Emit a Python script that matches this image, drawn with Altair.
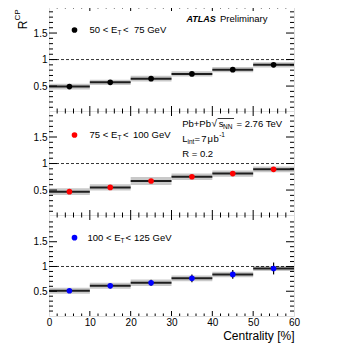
import altair as alt
import pandas as pd

# ---- data ----
CENT_LO = [0, 10, 20, 30, 40, 50]
CENT_HI = [10, 20, 30, 40, 50, 60]

R_50_75 = [0.49, 0.57, 0.64, 0.73, 0.81, 0.90]
STAT_50_75 = [0.01, 0.01, 0.012, 0.012, 0.015, 0.02]
SYS_50_75 = [0.055, 0.05, 0.055, 0.05, 0.05, 0.05]

R_75_100 = [0.47, 0.55, 0.67, 0.75, 0.81, 0.89]
STAT_75_100 = [0.015, 0.018, 0.02, 0.025, 0.03, 0.035]
SYS_75_100 = [0.065, 0.06, 0.075, 0.06, 0.06, 0.055]

R_100_125 = [0.51, 0.61, 0.67, 0.76, 0.84, 0.96]
STAT_100_125 = [0.03, 0.05, 0.06, 0.08, 0.09, 0.12]
SYS_100_125 = [0.06, 0.06, 0.065, 0.06, 0.055, 0.05]

X_LABELS = [0, 10, 20, 30, 40, 50, 60]
X_MAJOR = [10, 20, 30, 40, 50]
X_MINOR = [2, 4, 6, 8, 12, 14, 16, 18, 22, 24, 26, 28, 32, 34, 36, 38,
           42, 44, 46, 48, 52, 54, 56, 58]
Y_LABELS = [0.5, 1.0, 1.5]
Y_MINOR = [0.1, 0.2, 0.3, 0.4, 0.6, 0.7, 0.8, 0.9, 1.1, 1.2, 1.3, 1.4,
           1.6, 1.7, 1.8, 1.9]

FONT = "Liberation Sans"
W = 245
ONE = pd.DataFrame({"a": [0]})


def txt(x, y, s, size=9.5, **kw):
    return alt.Chart(ONE).mark_text(
        text=s, align=kw.pop("align", "left"), baseline=kw.pop("baseline", "middle"),
        font=FONT, fontSize=size, color="black", **kw
    ).encode(x=alt.value(x), y=alt.value(y))


def panel(r, stat, sys, color, H, dom, extra, bottom=False):
    df = pd.DataFrame({"lo": CENT_LO, "hi": CENT_HI, "r": r, "stat": stat, "sys": sys})
    df["mid"] = (df["lo"] + df["hi"]) / 2
    df["ylo"] = df["r"] - df["sys"]
    df["yhi"] = df["r"] + df["sys"]
    df["elo"] = df["r"] - df["stat"]
    df["ehi"] = df["r"] + df["stat"]

    xs = alt.Scale(domain=[0, 60], nice=False, zero=False)
    ys = alt.Scale(domain=dom, nice=False, zero=False)
    if bottom:
        xaxis = alt.Axis(values=X_LABELS, format="d", ticks=False, domain=False, grid=False,
                         labelFont=FONT, labelFontSize=10, labelPadding=1, labelFlush=False,
                         labelColor="black", title="Centrality [%]", titleFont=FONT,
                         titleFontSize=12, titleFontWeight="normal", titleAnchor="end",
                         titleColor="black", titlePadding=3)
    else:
        xaxis = None
    yaxis = alt.Axis(values=Y_LABELS, format="~g", ticks=False, domain=False, grid=False,
                     labelFont=FONT, labelFontSize=10, labelPadding=2, labelColor="black",
                     title=None)

    def X(f):
        return alt.X(f, type="quantitative", scale=xs, axis=xaxis)

    def Y(f):
        return alt.Y(f, type="quantitative", scale=ys, axis=yaxis)

    base = alt.Chart(df)
    band = base.mark_rect(color="#c9c9c9").encode(x=X("lo"), x2="hi", y=Y("ylo"), y2="yhi")
    hline = base.mark_rule(color="#1e1e1e", strokeWidth=2).encode(x=X("lo"), x2="hi", y=Y("r"))
    err = base.mark_rule(color="black", strokeWidth=1.2).encode(x=X("mid"), y=Y("elo"), y2="ehi")
    pts = base.mark_circle(size=32, color=color, opacity=1).encode(x=X("mid"), y=Y("r"))
    dashed = alt.Chart(ONE).mark_rule(color="black", strokeWidth=0.8, strokeDash=[3, 2]).encode(
        y=alt.datum(1, scale=ys))

    ymaj = pd.DataFrame({"v": Y_LABELS})
    ymin = pd.DataFrame({"v": Y_MINOR})
    xmaj = pd.DataFrame({"v": X_MAJOR})
    xmin = pd.DataFrame({"v": X_MINOR})
    tk = dict(color="black", strokeWidth=1)
    ticks = [
        alt.Chart(ymaj).mark_rule(**tk).encode(x=alt.value(0), x2=alt.value(8), y=Y("v")),
        alt.Chart(ymin).mark_rule(**tk).encode(x=alt.value(0), x2=alt.value(4), y=Y("v")),
        alt.Chart(ymaj).mark_rule(**tk).encode(x=alt.value(W - 8), x2=alt.value(W), y=Y("v")),
        alt.Chart(ymin).mark_rule(**tk).encode(x=alt.value(W - 4), x2=alt.value(W), y=Y("v")),
        alt.Chart(xmaj).mark_rule(**tk).encode(x=X("v"), y=alt.value(0), y2=alt.value(5)),
        alt.Chart(xmin).mark_rule(**tk).encode(x=X("v"), y=alt.value(0), y2=alt.value(2.5)),
        alt.Chart(xmaj).mark_rule(**tk).encode(x=X("v"), y=alt.value(H - 5), y2=alt.value(H)),
        alt.Chart(xmin).mark_rule(**tk).encode(x=X("v"), y=alt.value(H - 2.5), y2=alt.value(H)),
    ]
    return alt.layer(band, hline, err, dashed, *ticks, pts, *extra).properties(width=W, height=H)


def legend(color, my, parts):
    items = [alt.Chart(ONE).mark_circle(size=32, color=color, opacity=1).encode(
        x=alt.value(25.5), y=alt.value(my))]
    for (x, dy, s, size) in parts:
        items.append(txt(x, my + dy, s, size))
    return items


# invisible anchor fixing the left edge of the layout
anchor = alt.Chart(ONE).mark_rule(opacity=0, strokeWidth=1).encode(
    x=alt.value(-40), x2=alt.value(0), y=alt.value(50))

extra1 = legend("black", 24, [(40.5, 0, "50 < E", 9.5), (68.5, 3, "T", 6.5),
                              (74.0, 0, "<", 9.5), (85.0, 0, "75 GeV", 9.5)])
extra1 += [
    anchor,
    txt(137.5, 13, "ATLAS", 9, fontWeight="bold", fontStyle="italic"),
    txt(171.0, 13, "Preliminary", 9.5),
    txt(-26, 19, "R", 12, angle=270, align="center"),
    txt(-31, 9, "CP", 8, angle=270, align="center"),
]

extra2 = legend("red", 24, [(40.5, 0, "75 < E", 9.5), (68.5, 3, "T", 6.5),
                            (74.0, 0, "<", 9.5), (84.0, 0, "100 GeV", 9.5)])
extra2 += [
    txt(133.2, 13, "Pb+Pb", 9.5),
    txt(162.5, 13, "\u221a", 10),
    alt.Chart(ONE).mark_rule(color="black", strokeWidth=0.8).encode(
        x=alt.value(168.5), x2=alt.value(185), y=alt.value(7.5)),
    txt(169.8, 13, "s", 9.5),
    txt(174.0, 16, "NN", 6.5),
    txt(187.5, 13, "= 2.76 TeV", 9.5),
    txt(133.2, 28, "L", 9.5),
    txt(138.5, 31, "int", 6.5),
    txt(145.5, 28, "=", 9.5),
    txt(152.2, 28, "7", 9.5),
    txt(158.6, 28, "\u03bc", 9.5),
    txt(164.6, 28, "b", 9.5),
    txt(170.2, 24, "-1", 6.5),
    txt(133.2, 43, "R = 0.2", 9.5),
]

extra3 = legend("blue", 22.7, [(38.5, 0, "100 < E", 9.5), (71.5, 3, "T", 6.5),
                               (76.5, 0, "<", 9.5), (85.0, 0, "125 GeV", 9.5)])

p1 = panel(R_50_75, STAT_50_75, SYS_50_75, "black", 105, [0.03, 2.01], extra1)
p2 = panel(R_75_100, STAT_75_100, SYS_75_100, "#ff0000", 104, [0.03, 1.99], extra2)
p3 = panel(R_100_125, STAT_100_125, SYS_100_125, "#0000ff", 101, [0.0, 2.04], extra3, bottom=True)

chart = alt.vconcat(p1, p2, p3, spacing=0, bounds="flush").properties(
    autosize=alt.AutoSizeParams(type="pad"),
    padding={"left": 0, "top": -3, "right": 5, "bottom": 5},
).configure_view(stroke="black", strokeWidth=1).configure(background="white")

chart.save("out.html", embed_options={"renderer": "svg", "actions": False})
